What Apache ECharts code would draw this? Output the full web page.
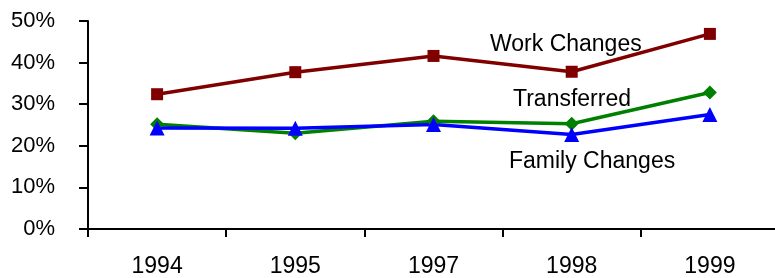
<!DOCTYPE html>
<html>
<head>
<meta charset="utf-8">
<script src="https://cdn.jsdelivr.net/npm/echarts@6/dist/echarts.min.js"></script>
<style>
  html, body { margin: 0; padding: 0; background: #fff; }
  #chart { width: 775px; height: 278px; }
</style>
</head>
<body>
<div id="chart"></div>
<script>
var years = ['1994', '1995', '1997', '1998', '1999'];
var workChanges = [32.4, 37.7, 41.6, 37.8, 46.9];
var transferred = [25.2, 23.0, 25.9, 25.3, 32.8];
var familyChanges = [24.3, 24.2, 25.1, 22.7, 27.5];
var yTicks = [0, 10, 20, 30, 40, 50];

var chart = echarts.init(document.getElementById('chart'));
var font = '"Liberation Sans", Arial, sans-serif';

function line(name, data, color, symbol, size) {
    return {
        name: name,
        type: 'line',
        data: data,
        symbol: symbol,
        symbolSize: size,
        showAllSymbol: true,
        lineStyle: { color: color, width: 3.5 },
        itemStyle: { color: color },
        emphasis: { disabled: true }
    };
}

chart.setOption({
    animation: false,
    grid: { left: 88, top: 21, bottom: 49, width: 691, outerBoundsMode: 'none', containLabel: false },
    xAxis: {
        type: 'category',
        data: years,
        boundaryGap: true,
        axisLine: { lineStyle: { color: '#000', width: 2 } },
        axisTick: { show: true, length: 8, lineStyle: { color: '#000', width: 2 } },
        axisLabel: { color: '#000', fontSize: 23, fontFamily: font, margin: 26 }
    },
    yAxis: {
        type: 'value',
        min: yTicks[0],
        max: yTicks[yTicks.length - 1],
        interval: 10,
        axisLine: { show: true, lineStyle: { color: '#000', width: 2 } },
        axisTick: { show: true, length: 9, lineStyle: { color: '#000', width: 2 } },
        splitLine: { show: false },
        axisLabel: { color: '#000', fontSize: 22, fontFamily: font, margin: 33, formatter: '{value}%' }
    },
    graphic: [
        { type: 'text', left: 490, top: 33, style: { text: 'Work Changes', fontSize: 23, fontFamily: font, fill: '#000' } },
        { type: 'text', left: 513, top: 88, style: { text: 'Transferred', fontSize: 23, fontFamily: font, fill: '#000' } },
        { type: 'text', left: 509, top: 150, style: { text: 'Family Changes', fontSize: 23, fontFamily: font, fill: '#000' } }
    ],
    series: [
        line('Work Changes', workChanges, '#800000', 'rect', 12),
        line('Transferred', transferred, '#008000', 'diamond', 14),
        line('Family Changes', familyChanges, '#0000ff', 'triangle', 15)
    ]
});
</script>
</body>
</html>
